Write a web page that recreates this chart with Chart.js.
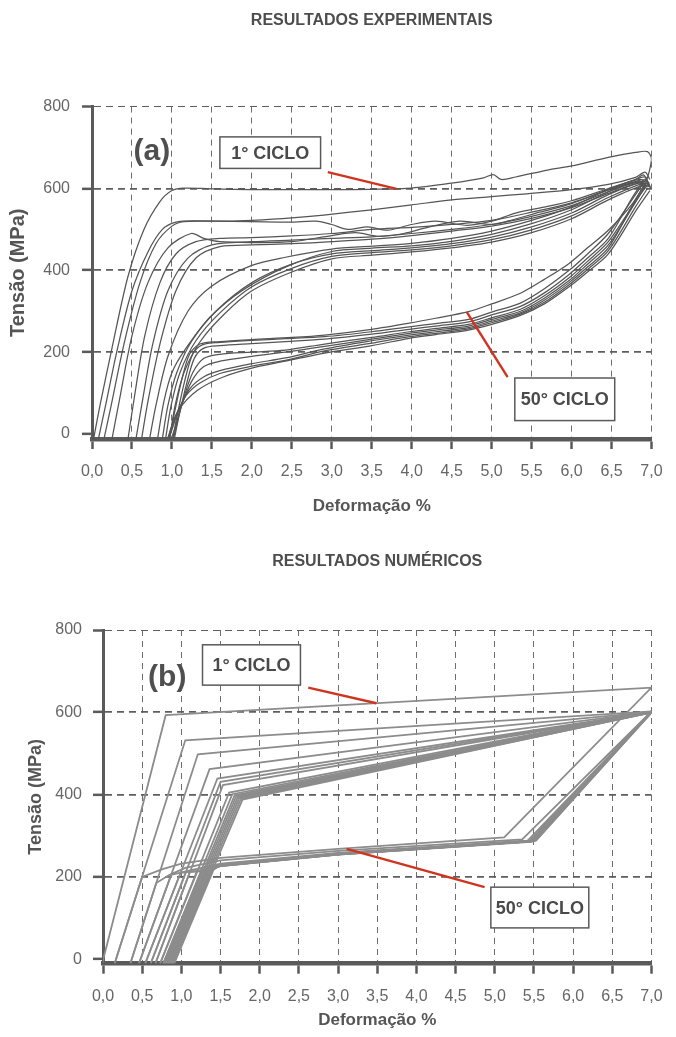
<!DOCTYPE html>
<html>
<head>
<meta charset="utf-8">
<script src="https://cdn.jsdelivr.net/npm/chart.js@4.4.1/dist/chart.umd.min.js"></script>
<style>
  html, body { margin: 0; padding: 0; background: #ffffff; }
  #wrap { position: relative; width: 676px; height: 1037px; }
  canvas { position: absolute; left: 0; }
  #expChart { top: 0; }
  #numChart { top: 530px; }
</style>
</head>
<body>
<div id="wrap">
  <canvas id="expChart" width="676" height="530"></canvas>
  <canvas id="numChart" width="676" height="507"></canvas>
</div>
<script>
const FONT = '"Liberation Sans", Arial, Helvetica, sans-serif';

// Axis ticks
const strainTicks = [0, 0.5, 1, 1.5, 2, 2.5, 3, 3.5, 4, 4.5, 5, 5.5, 6, 6.5, 7];
const strainLabels = ['0,0','0,5','1,0','1,5','2,0','2,5','3,0','3,5','4,0','4,5','5,0','5,5','6,0','6,5','7,0'];
const stressTicks = [0, 200, 400, 600, 800];
const stressLabels = ['0', '200', '400', '600', '800'];

// ---- Experimental results: loading branches [strain %, stress MPa] ----
const expLoad1 = [[0.02,-12],[0.1,70],[0.25,210],[0.45,385],[0.65,500],[0.85,568],[1.0,595],[1.15,601],[1.5,599],[2.0,597],[2.5,597],[3.0,597],[3.5,598],[4.0,601],[4.5,613],[4.9,626],[5.02,634],[5.12,622],[5.3,628],[5.7,645],[6.0,655],[6.46,676],[6.8,688],[6.95,690],[7.0,672],[6.97,640],[6.93,615]];
const expLoad2 = [[0.08,-12],[0.17,70],[0.32,210],[0.5,350],[0.7,445],[0.88,500],[1.05,518],[1.3,521],[1.7,520],[2.0,522],[2.5,528],[2.9,535],[3.5,548],[4.0,560],[4.5,572],[5.0,580],[5.44,587],[6.0,597],[6.46,610],[6.8,627],[6.92,640],[6.98,622]];
const expLoad3 = [[0.15,-12],[0.24,70],[0.4,220],[0.6,370],[0.8,465],[1.0,508],[1.15,519],[1.5,520],[2.0,519],[2.5,518],[2.8,520],[3.0,512],[3.2,500],[3.45,506],[3.7,498],[4.0,512],[4.3,520],[4.7,510],[5.0,520],[5.3,540],[5.7,556],[6.0,570],[6.46,600],[6.8,622],[6.9,633],[6.95,618]];
const expLoad4 = [[0.25,-12],[0.34,80],[0.5,240],[0.7,370],[0.95,455],[1.24,490],[1.4,478],[1.6,470],[2.0,468],[2.5,470],[3.0,485],[3.3,492],[3.6,483],[3.9,490],[4.2,505],[4.6,520],[5.0,512],[5.2,520],[5.6,542],[6.0,563],[6.46,597],[6.85,622],[6.95,612]];
const expLoad5 = [[0.45,-12],[0.53,90],[0.66,240],[0.85,370],[1.05,440],[1.3,470],[1.6,478],[2.0,480],[2.5,484],[3.0,490],[3.5,500],[4.0,505],[4.5,512],[5.0,522],[5.5,542],[6.0,565],[6.46,596],[6.85,618],[6.93,607]];
const expLoad6 = [[0.55,-12],[0.63,80],[0.76,220],[0.95,350],[1.2,430],[1.5,462],[2.0,470],[2.5,474],[3.0,478],[3.5,482],[4.0,490],[4.5,500],[5.0,512],[5.5,532],[6.0,558],[6.46,592],[6.85,616],[6.95,603]];
const expLoad7 = [[0.62,-12],[0.7,80],[0.85,220],[1.05,350],[1.3,430],[1.6,458],[2.0,462],[2.5,465],[3.0,470],[3.5,476],[4.0,485],[4.5,496],[5.0,508],[5.5,527],[6.0,553],[6.46,588],[6.85,613],[6.92,598]];
const expLoad8 = [[0.72,-12],[0.8,70],[0.95,190],[1.2,300],[1.5,362],[2.0,412],[2.42,432],[3.0,452],[3.5,459],[4.0,466],[4.5,478],[5.0,496],[5.5,522],[6.0,555],[6.46,598],[6.8,622],[6.92,628],[6.96,612]];
const expLoad9 = [[0.82,-12],[0.9,80],[1.0,150],[1.16,205],[1.48,286],[1.89,352],[2.42,408],[3.0,446],[3.5,454],[4.0,460],[4.5,471],[5.0,488],[5.5,514],[6.0,548],[6.46,592],[6.82,618],[6.93,622],[6.97,605]];
const expLoad10 = [[0.88,-12],[0.95,70],[1.06,150],[1.25,228],[1.55,300],[2.0,370],[2.5,415],[3.0,440],[3.5,448],[4.0,455],[4.5,465],[5.0,481],[5.5,506],[6.0,540],[6.46,585],[6.85,615],[6.95,618],[6.99,600]];
const expLoad11 = [[0.92,-12],[0.99,70],[1.1,150],[1.3,228],[1.6,296],[2.0,360],[2.5,405],[3.0,434],[3.5,443],[4.0,450],[4.5,460],[5.0,475],[5.5,499],[6.0,533],[6.46,578],[6.88,612],[6.97,610]];
const expLoad12 = [[0.97,-12],[1.04,70],[1.15,150],[1.35,225],[1.65,292],[2.0,350],[2.5,396],[3.0,428],[3.5,437],[4.0,445],[4.5,455],[5.0,469],[5.5,492],[6.0,526],[6.46,572],[6.9,608],[6.99,603]];

// ---- Experimental results: unloading branches ----
const expUnload1 = [[6.93,615],[6.75,560],[6.46,498],[6.2,455],[5.97,417],[5.66,378],[5.36,344],[5.0,318],[4.71,299],[4.3,283],[3.97,271],[3.5,256],[2.91,242],[2.5,236],[2.0,231],[1.6,226],[1.35,220],[1.22,195],[1.12,130],[1.03,50],[0.97,-12]];
const expUnload2 = [[6.95,628],[6.8,585],[6.46,490],[6.2,440],[5.97,400],[5.66,355],[5.36,320],[5.0,298],[4.71,280],[4.3,270],[3.97,262],[3.5,250],[2.91,238],[2.42,233],[2.0,229],[1.6,224],[1.38,218],[1.26,195],[1.16,130],[1.07,50],[1.01,-12]];
const expUnload3 = [[6.9,620],[6.75,575],[6.46,478],[6.2,430],[5.97,390],[5.66,345],[5.36,312],[5.0,291],[4.71,274],[4.3,264],[3.97,256],[3.5,244],[2.91,232],[2.42,226],[2.0,221],[1.6,216],[1.4,210],[1.28,185],[1.18,120],[1.09,45],[1.03,-12]];
const expUnload4 = [[6.97,615],[6.8,568],[6.46,470],[6.2,422],[5.97,382],[5.66,338],[5.36,305],[5.0,284],[4.71,268],[4.3,258],[3.97,250],[3.5,236],[2.91,220],[2.42,205],[2.0,200],[1.6,195],[1.4,185],[1.26,150],[1.15,90],[1.06,25],[1.02,-12]];
const expUnload5 = [[6.93,610],[6.78,560],[6.46,462],[6.2,415],[5.97,375],[5.66,332],[5.36,300],[5.0,280],[4.71,264],[4.3,254],[3.97,246],[3.5,232],[2.91,214],[2.42,200],[2.0,190],[1.6,178],[1.4,165],[1.25,130],[1.12,70],[1.03,10],[0.99,-12]];
const expUnload6 = [[6.9,605],[6.75,555],[6.46,455],[6.2,408],[5.97,370],[5.66,327],[5.36,296],[5.0,276],[4.71,260],[4.3,250],[3.97,242],[3.5,228],[2.91,208],[2.42,186],[2.0,172],[1.6,155],[1.4,140],[1.22,110],[1.08,55],[0.99,5],[0.96,-12]];
const expUnload7 = [[6.95,600],[6.8,555],[6.46,448],[6.2,402],[5.97,365],[5.66,322],[5.36,293],[5.0,272],[4.71,257],[4.3,246],[3.97,238],[3.5,222],[2.91,203],[2.42,180],[2.0,166],[1.6,148],[1.35,125],[1.18,95],[1.05,45],[0.97,0],[0.94,-12]];
const expUnload8 = [[6.98,595],[6.82,550],[6.46,440],[6.2,396],[5.97,360],[5.66,318],[5.36,290],[5.0,268],[4.71,254],[4.3,243],[3.97,234],[3.5,216],[2.91,198],[2.42,178],[2.06,164],[1.65,140],[1.32,107],[1.08,58],[0.98,10],[0.95,-12]];

// ---- Numerical results: one closed path per cycle ----
const numCycle1 = [[-0.01,-10],[0.8,593],[7.0,660],[5.12,296],[3.0,268],[1.5,246],[1.0,232],[0.75,218],[0.5,200],[0.15,-10]];
const numCycle2 = [[0.15,-10],[1.05,532],[7.0,602],[5.35,291],[3.0,263],[1.5,240],[1.05,222],[0.85,205],[0.68,185],[0.35,-10]];
const numCycle3 = [[0.35,-10],[1.21,498],[7.0,601],[5.42,288],[3.0,258],[1.5,232],[1.1,215],[0.87,205],[0.46,-10]];
const numCycle4 = [[0.46,-10],[1.36,462],[7.0,601],[5.44,287],[3.0,257],[1.5,230],[1.2,214],[0.99,210],[0.54,-10]];
const numCycle5 = [[0.54,-10],[1.46,439],[7.0,600],[5.45,287],[3.0,256],[1.5,229],[1.25,214],[1.06,212],[0.61,-10]];
const numCycle6 = [[0.61,-10],[1.50,431],[7.0,600],[5.46,286],[3.0,256],[1.5,229],[1.3,214],[1.11,213],[0.67,-10]];
const numCycle7 = [[0.67,-10],[1.53,423],[7.0,600],[5.47,286],[3.0,255],[1.5,228],[1.33,215],[1.2,214],[0.73,-10]];
const numCycle10 = [[0.73,-10],[1.61,405],[7.0,602],[5.46,285],[3.0,254],[1.5,226],[1.26,215],[0.77,-10]];
const numCycle15 = [[0.77,-10],[1.65,401],[7.0,601],[5.47,286],[3.0,255],[1.5,227],[1.28,215],[0.79,-10]];
const numCycle20 = [[0.79,-10],[1.68,398],[7.0,600],[5.48,286],[3.0,254],[1.5,226],[1.31,215],[0.81,-10]];
const numCycle25 = [[0.81,-10],[1.70,396],[7.0,601],[5.49,287],[3.0,256],[1.5,228],[1.33,216],[0.83,-10]];
const numCycle30 = [[0.83,-10],[1.72,394],[7.0,602],[5.50,287],[3.0,255],[1.5,227],[1.35,216],[0.85,-10]];
const numCycle35 = [[0.85,-10],[1.74,392],[7.0,600],[5.51,288],[3.0,256],[1.5,228],[1.37,216],[0.87,-10]];
const numCycle40 = [[0.87,-10],[1.76,390],[7.0,599],[5.52,288],[3.0,256],[1.5,229],[1.39,217],[0.89,-10]];
const numCycle50 = [[0.89,-10],[1.78,388],[7.0,600],[5.53,289],[3.0,257],[1.5,229],[1.41,217],[0.91,-10]];

const expCurves = [expLoad1, expLoad2, expLoad3, expLoad4, expLoad5, expLoad6, expLoad7, expLoad8, expLoad9, expLoad10, expLoad11, expLoad12,
                   expUnload1, expUnload2, expUnload3, expUnload4, expUnload5, expUnload6, expUnload7, expUnload8];
const numCurves = [numCycle1, numCycle2, numCycle3, numCycle4, numCycle5, numCycle6, numCycle7,
                   numCycle10, numCycle15, numCycle20, numCycle25, numCycle30, numCycle35, numCycle40, numCycle50];

function buildDatasets(curves, color, width, tension) {
  return curves.map(pts => ({
    data: pts,
    showLine: true,
    borderColor: color,
    borderWidth: width,
    pointRadius: 0,
    pointHoverRadius: 0,
    tension: tension,
    fill: false
  }));
}

// Labelled boxes, red pointers and panel letter, placed in data units
const calloutPlugin = {
  id: 'callouts',
  afterDatasetsDraw(chart, args, opts) {
    const ctx = chart.ctx;
    const sx = chart.scales.x, sy = chart.scales.y;
    const X = v => sx.getPixelForValue(v);
    const Y = v => sy.getPixelForValue(v);
    ctx.save();
    ctx.strokeStyle = '#d0341f';
    ctx.lineWidth = 2.4;
    opts.pointers.forEach(p => {
      ctx.beginPath();
      ctx.moveTo(X(p[0]), Y(p[1]));
      ctx.lineTo(X(p[2]), Y(p[3]));
      ctx.stroke();
    });
    opts.boxes.forEach(b => {
      const x0 = X(b.x0), x1 = X(b.x1), y0 = Y(b.y0), y1 = Y(b.y1);
      ctx.fillStyle = '#ffffff';
      ctx.fillRect(x0, y0, x1 - x0, y1 - y0);
      ctx.strokeStyle = '#5a5a5a';
      ctx.lineWidth = 1.5;
      ctx.strokeRect(x0, y0, x1 - x0, y1 - y0);
      ctx.fillStyle = '#4a4a4a';
      ctx.font = 'bold 18px ' + FONT;
      ctx.textAlign = 'center';
      ctx.textBaseline = 'middle';
      ctx.fillText(b.text, (x0 + x1) / 2, (y0 + y1) / 2 + 1);
    });
    ctx.fillStyle = '#4f4f4f';
    ctx.font = 'bold 30px ' + FONT;
    ctx.textAlign = 'center';
    ctx.textBaseline = 'middle';
    ctx.fillText(opts.panel.text, X(opts.panel.x), Y(opts.panel.y));
    ctx.restore();
  }
};

function makeConfig(o) {
  return {
    type: 'scatter',
    data: { datasets: buildDatasets(o.curves, o.color, o.width, o.tension) },
    options: {
      responsive: false,
      animation: false,
      devicePixelRatio: 1,
      events: [],
      layout: { padding: { left: 0, right: 12, top: 0, bottom: o.padBottom } },
      plugins: {
        legend: { display: false },
        tooltip: { enabled: false },
        title: {
          display: true,
          text: o.title,
          fullSize: false,
          color: '#4d4d4d',
          font: { family: FONT, size: 16, weight: 'bold' },
          padding: { top: o.titleTop, bottom: o.titleBottom }
        },
        callouts: o.callouts
      },
      scales: {
        x: {
          type: 'linear',
          min: 0,
          max: 7,
          afterBuildTicks: s => { s.ticks = strainTicks.map(v => ({ value: v })); },
          afterFit: s => { s.height = o.xAxisHeight; },
          grid: {
            color: c => (c.tick && c.tick.value === 0) ? 'rgba(0,0,0,0)' : '#6e6e6e',
            lineWidth: 1,
            borderDash: [6, 5],
            tickLength: 10,
            tickWidth: 2.5,
            tickColor: '#5a5a5a',
            tickBorderDash: []
          },
          border: { display: true, color: '#5a5a5a', width: 4.5, dash: [6, 5] },
          ticks: {
            padding: 13.4,
            color: '#666666',
            font: { family: FONT, size: 16 },
            maxRotation: 0,
            autoSkip: false,
            callback: (v, i) => strainLabels[i]
          },
          title: {
            display: true,
            text: 'Deformação %',
            color: '#555555',
            font: { family: FONT, size: 17, weight: 'bold' },
            padding: { top: 0, bottom: 0 }
          }
        },
        y: {
          type: 'linear',
          min: o.yMin,
          max: 800,
          afterBuildTicks: s => { s.ticks = stressTicks.map(v => ({ value: v })); },
          afterFit: s => { s.width = o.axisLeft; },
          grid: {
            color: c => (c.tick && c.tick.value === 0) ? 'rgba(0,0,0,0)' : '#5e5e5e',
            lineWidth: c => (c.tick && c.tick.value === 800) ? 1 : 1.7,
            borderDash: [7, 5],
            tickLength: 10,
            tickWidth: 2.5,
            tickColor: '#5a5a5a',
            tickBorderDash: []
          },
          border: { display: true, color: '#5a5a5a', width: 3, dash: [7, 5] },
          ticks: {
            padding: o.yTickPad,
            color: '#666666',
            font: { family: FONT, size: 16 },
            callback: (v, i) => stressLabels[i]
          },
          title: {
            display: true,
            text: 'Tensão (MPa)',
            color: '#555555',
            font: { family: FONT, size: o.yTitleSize, weight: 'bold' },
            padding: { top: o.yTitlePad, bottom: 0 }
          }
        }
      }
    },
    plugins: [calloutPlugin]
  };
}

new Chart(document.getElementById('expChart'), makeConfig({
  curves: expCurves,
  color: '#555555',
  width: 1.25,
  tension: 0.3,
  title: 'RESULTADOS EXPERIMENTAIS',
  titleTop: 11.4,
  titleBottom: 76,
  padBottom: 13.8,
  xAxisHeight: 77.2,
  yMin: -12,
  axisLeft: 92,
  yTickPad: 12,
  yTitleSize: 20,
  yTitlePad: 6,
  callouts: {
    pointers: [[2.95, 640, 3.81, 599], [5.2, 139, 4.69, 298]],
    boxes: [
      { text: '1° CICLO', x0: 1.60, x1: 2.86, y0: 726, y1: 649 },
      { text: '50° CICLO', x0: 5.29, x1: 6.54, y0: 137, y1: 33 }
    ],
    panel: { text: '(a)', x: 0.75, y: 690 }
  }
}));

new Chart(document.getElementById('numChart'), makeConfig({
  curves: numCurves,
  color: '#8c8c8c',
  width: 1.8,
  tension: 0,
  title: 'RESULTADOS NUMÉRICOS',
  titleTop: 22.4,
  titleBottom: 58.4,
  padBottom: 6.8,
  xAxisHeight: 66.5,
  yMin: -11,
  axisLeft: 103,
  yTickPad: 11,
  yTitleSize: 18,
  yTitlePad: 25,
  callouts: {
    pointers: [[2.62, 660, 3.49, 622], [4.87, 175, 3.11, 268]],
    boxes: [
      { text: '1° CICLO', x0: 1.27, x1: 2.52, y0: 764, y1: 666 },
      { text: '50° CICLO', x0: 4.95, x1: 6.20, y0: 175, y1: 76 }
    ],
    panel: { text: '(b)', x: 0.82, y: 683 }
  }
}));
</script>
</body>
</html>
